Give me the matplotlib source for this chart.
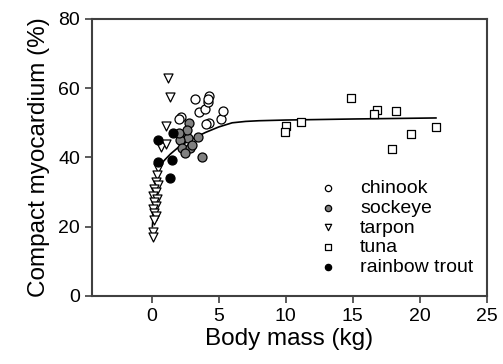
import numpy as np
import matplotlib
matplotlib.use("Agg")
import matplotlib.pyplot as plt

plt.rcParams['font.family'] = ['Liberation Sans', 'DejaVu Sans']

# --- data (body mass kg, compact myocardium %) ---
chinook_x = [2.2, 2.0, 3.2, 3.5, 4.0, 4.2, 4.25, 4.3, 4.05, 5.2, 5.35, 4.2]
chinook_y = [51.8, 51.0, 56.9, 53.2, 54.1, 56.1, 57.8, 49.9, 49.6, 51.0, 53.5, 57.0]

sockeye_x = [2.8, 2.36, 2.73, 2.11, 3.48, 2.24, 2.86, 2.49, 3.73, 2.99, 2.6, 2.05]
sockeye_y = [49.9, 46.5, 45.5, 45.0, 45.8, 42.7, 42.7, 41.2, 40.0, 43.6, 47.8, 47.0]

tarpon_x = [1.2, 1.4, 1.1, 0.7, 1.1, 0.5, 0.4, 0.3, 0.5, 0.2, 0.3, 0.1,
            0.4, 0.2, 0.3, 0.1, 0.2, 0.3, 0.2, 0.1, 0.1]
tarpon_y = [63.0, 57.5, 49.0, 43.0, 44.0, 37.0, 35.0, 33.0, 32.0, 31.0, 30.0, 29.0,
            28.0, 27.0, 26.0, 25.0, 24.0, 23.0, 22.0, 18.5, 17.0]

tuna_x = [14.9, 16.8, 16.6, 18.2, 21.2, 19.35, 17.9, 11.1, 10.0, 9.95]
tuna_y = [57.1, 53.7, 52.4, 53.3, 48.9, 46.7, 42.4, 50.2, 49.2, 47.3]

trout_x = [1.61, 0.49, 0.49, 1.49, 1.37]
trout_y = [47.0, 45.0, 38.8, 39.3, 34.0]

fit_x = [0.05, 0.2, 0.5, 0.9, 1.4, 2.1, 3.0, 4.0, 5.0, 6.0, 7.0, 8.0, 10.0, 15.0, 21.2]
fit_y = [20.0, 29.0, 36.0, 39.0, 41.0, 43.3, 45.3, 47.2, 48.8, 50.0, 50.4, 50.6, 50.8, 51.1, 51.4]

fig = plt.figure(figsize=(5.03, 3.64), dpi=100)
ax = fig.add_axes([0.183, 0.187, 0.785, 0.761])

ax.plot(fit_x, fit_y, color='black', lw=1.2, zorder=1)

ms = 42
ax.scatter(tuna_x, tuna_y, marker='s', s=36, facecolor='white', edgecolor='black', lw=0.9, label='tuna', zorder=2)
ax.scatter(tarpon_x, tarpon_y, marker='v', s=ms, facecolor='white', edgecolor='black', lw=0.9, label='tarpon', zorder=3)
ax.scatter(chinook_x, chinook_y, marker='o', s=ms, facecolor='white', edgecolor='black', lw=0.9, label='chinook', zorder=3)
ax.scatter(sockeye_x, sockeye_y, marker='o', s=ms, facecolor='#808080', edgecolor='black', lw=0.9, label='sockeye', zorder=4)
ax.scatter(trout_x, trout_y, marker='o', s=ms, facecolor='black', edgecolor='black', lw=0.9, label='rainbow trout', zorder=4)

ax.set_xlim(-4.45, 25)
ax.set_ylim(0, 80)
ax.set_xticks([0, 5, 10, 15, 20, 25])
ax.set_yticks([0, 20, 40, 60, 80])
ax.tick_params(direction='out', length=5, width=1.2, labelsize=14, color='#404040')
for s in ax.spines.values():
    s.set_color('#404040')
    s.set_linewidth(1.5)

ax.set_xlabel('Body mass (kg)', fontsize=17.5, labelpad=2)
ax.set_ylabel('Compact myocardium (%)', fontsize=17.5, labelpad=6)

h, l = ax.get_legend_handles_labels()
order = ['chinook', 'sockeye', 'tarpon', 'tuna', 'rainbow trout']
hh = [h[l.index(o)] for o in order]
leg = ax.legend(hh, order, loc='lower right', frameon=False, fontsize=14,
                markerscale=0.7, handletextpad=0.65, labelspacing=0.1,
                bbox_to_anchor=(1.01, 0.01))

fig.savefig('out.png', dpi=100)
